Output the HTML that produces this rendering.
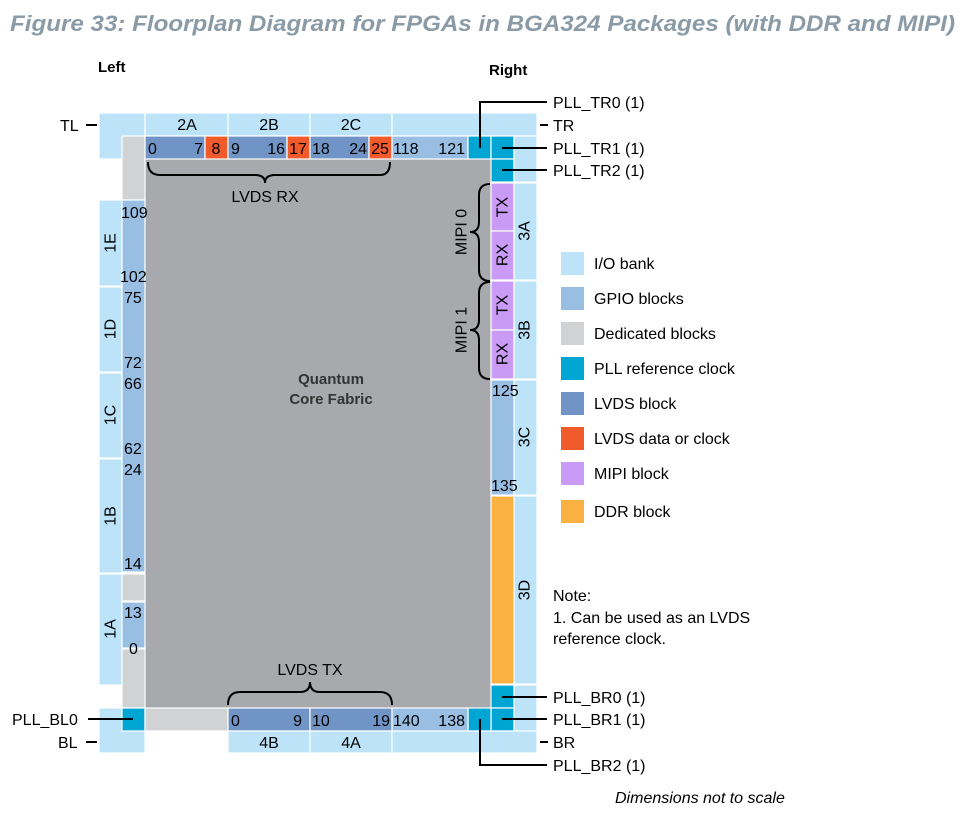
<!DOCTYPE html>
<html><head><meta charset="utf-8"><style>
html,body{margin:0;padding:0;background:#fff;}
svg{display:block;font-family:"Liberation Sans",Arial,sans-serif;}
</style></head><body>
<svg id="fp" width="968" height="817" viewBox="0 0 968 817" xmlns="http://www.w3.org/2000/svg">
<text x="10" y="31" font-size="22" font-weight="bold" font-style="italic" fill="#8a9aa6" textLength="945" lengthAdjust="spacingAndGlyphs">Figure 33: Floorplan Diagram for FPGAs in BGA324 Packages (with DDR and MIPI)</text>
<text x="98" y="72" font-size="15" font-weight="bold">Left</text>
<text x="489" y="75" font-size="15" font-weight="bold">Right</text>
<rect x="145" y="159" width="346" height="549" fill="#a7a9ac"/>
<text x="331" y="384" font-size="15" font-weight="bold" fill="#333" text-anchor="middle">Quantum</text>
<text x="331" y="404" font-size="15" font-weight="bold" fill="#333" text-anchor="middle">Core Fabric</text>
<g id="blocks"></g>
<g id="labels" font-size="16"></g>
<g id="lines" stroke="#000" stroke-width="2" fill="none"></g>
<g id="legend" font-size="16"></g>
<text x="553" y="601" font-size="16">Note:</text>
<text x="553" y="623" font-size="16">1. Can be used as an LVDS</text>
<text x="553" y="644" font-size="16">reference clock.</text>
<text x="615" y="803" font-size="16" font-style="italic">Dimensions not to scale</text>
</svg>
<script>
const C={io:"#bce3f8",gp:"#99bee3",de:"#d1d2d4",pll:"#00a6d3",lv:"#7094c6",ld:"#f15a2a",mi:"#c99bf6",dd:"#fbb042"};
// [x,y,w,h,type,name]
const blockList=[
[99,113,46,46,"io","tl-corner"],[145,113,83,23,"io","bank-2a"],[228,113,82,23,"io","bank-2b"],[310,113,82,23,"io","bank-2c"],[392,113,145,23,"io","bank-tr-top"],
[122,136,23,64,"de","dedicated-top-left"],
[145,136,60,23,"lv","lvds-0-7"],[205,136,23,23,"ld","lvds-8"],[228,136,59,23,"lv","lvds-9-16"],[287,136,23,23,"ld","lvds-17"],[310,136,59,23,"lv","lvds-18-24"],[369,136,23,23,"ld","lvds-25"],[392,136,76,23,"gp","gpio-118-121"],[468,136,23,23,"pll","pll-tr0"],[491,136,23,23,"pll","pll-tr1"],[491,159,23,23,"pll","pll-tr2"],
[514,136,23,46,"io","bank-tr-side"],
[99,200,23,86,"io","bank-1e"],[99,287,23,85,"io","bank-1d"],[99,373,23,85,"io","bank-1c"],[99,459,23,114,"io","bank-1b"],[99,574,23,111,"io","bank-1a"],
[122,200,23,372,"gp","gpio-left"],[122,574,23,27,"de","dedicated-1a-top"],[122,602,23,46,"gp","gpio-1a"],[122,649,23,59,"de","dedicated-1a-bottom"],
[491,183,23,48,"mi","mipi0-tx"],[491,231,23,49,"mi","mipi0-rx"],[491,281,23,49,"mi","mipi1-tx"],[491,330,23,49,"mi","mipi1-rx"],
[514,183,23,97,"io","bank-3a"],[514,281,23,98,"io","bank-3b"],[514,380,23,115,"io","bank-3c"],[514,496,23,188,"io","bank-3d"],[514,685,23,68,"io","bank-br-side"],
[491,380,23,115,"gp","gpio-125-135"],[491,496,23,188,"dd","ddr-block"],[491,685,23,23,"pll","pll-br0"],[491,708,23,23,"pll","pll-br1"],[468,708,23,23,"pll","pll-br2"],
[99,708,46,45,"io","bl-corner"],[122,708,23,23,"pll","pll-bl0"],[145,708,83,23,"de","dedicated-bottom"],
[228,708,82,23,"lv","lvds-tx-0-9"],[310,708,82,23,"lv","lvds-tx-10-19"],[392,708,76,23,"gp","gpio-140-138"],
[228,731,82,22,"io","bank-4b"],[310,731,82,22,"io","bank-4a"],[392,731,145,22,"io","bank-br-bottom"]
];
// [x,y,text,anchor]
const labelList=[
[187,130,"2A","middle"],[269,130,"2B","middle"],[351,130,"2C","middle"],
[148,154,"0","start"],[203,154,"7","end"],[216,154,"8","middle"],[231,154,"9","start"],[285,154,"16","end"],[298,154,"17","middle"],[312,154,"18","start"],[367,154,"24","end"],[380,154,"25","middle"],[393,154,"118","start"],[465,154,"121","end"],
[121,218,"109","start"],[120,282,"102","start"],[124,303,"75","start"],[124,368,"72","start"],[124,389,"66","start"],[124,454,"62","start"],[124,475,"24","start"],[124,569,"14","start"],[124,618,"13","start"],[129,654,"0","start"],
[231,726,"0","start"],[302,726,"9","end"],[312,726,"10","start"],[390,726,"19","end"],[393,726,"140","start"],[465,726,"138","end"],
[269,748,"4B","middle"],[351,748,"4A","middle"],
[265,202,"LVDS RX","middle"],[310,675,"LVDS TX","middle"],
[492,396,"125","start"],[491,491,"135","start"]
];
// rotated: [cx,cy,text]
const rotList=[[111,243,"1E"],[111,329,"1D"],[111,415,"1C"],[111,516,"1B"],[111,629,"1A"],
[503,207,"TX"],[503,255,"RX"],[503,305,"TX"],[503,354,"RX"],
[525,231,"3A"],[525,330,"3B"],[525,437,"3C"],[525,590,"3D"],[462,232,"MIPI 0"],[462,330,"MIPI 1"]];
const callouts=[[553,108,"PLL_TR0 (1)"],[553,131,"TR"],[553,154,"PLL_TR1 (1)"],[553,176,"PLL_TR2 (1)"],[553,703,"PLL_BR0 (1)"],[553,725,"PLL_BR1 (1)"],[553,748,"BR"],[553,771,"PLL_BR2 (1)"],[60,131,"TL"],[58,748,"BL"],[12,725,"PLL_BL0"]];
const linePaths=["M480 148 V102 H547","M540 125 H548","M502 148 H547","M502 170 H547","M502 697 H547","M502 719 H547","M540 742 H548","M480 719 V765 H547","M86 125 H97","M86 742 H97","M88 719 H133",
"M148 162 Q148 175 160 175 H255 Q265 175 265 183 Q265 175 275 175 H380 Q390 175 390 162",
"M228 705 Q228 692 240 692 H300 Q310 692 310 682 Q310 692 320 692 H380 Q392 692 392 705",
"M490 184 Q479 184 479 195 V222 Q479 232 470 232 Q479 232 479 242 V270 Q479 281 490 281",
"M490 282 Q479 282 479 293 V320 Q479 330 470 330 Q479 330 479 340 V368 Q479 379 490 379"];
const legendNames=["I/O bank","GPIO blocks","Dedicated blocks","PLL reference clock","LVDS block","LVDS data or clock","MIPI block","DDR block"];
const legendKeys=["io","gp","de","pll","lv","ld","mi","dd"];
const legendY=[252,287,322,357,392,427,462,500];
const NS="http://www.w3.org/2000/svg";
const gB=document.getElementById("blocks"),gL=document.getElementById("labels"),gN=document.getElementById("lines"),gG=document.getElementById("legend");
function mk(t,a){const e=document.createElementNS(NS,t);for(const k in a)e.setAttribute(k,a[k]);return e;}
blockList.forEach(b=>{const r=mk("rect",{x:b[0],y:b[1],width:b[2],height:b[3],fill:C[b[4]],stroke:"#fff","stroke-width":1.2});


gB.appendChild(r);});
labelList.forEach(l=>{const t=mk("text",{x:l[0],y:l[1],"text-anchor":l[3]});t.textContent=l[2];


gL.appendChild(t);});
rotList.forEach(l=>{const t=mk("text",{x:0,y:0,"text-anchor":"middle","dominant-baseline":"central",transform:`translate(${l[0]},${l[1]}) rotate(-90)`});t.textContent=l[2];


gL.appendChild(t);});
callouts.forEach(l=>{const t=mk("text",{x:l[0],y:l[1]});t.textContent=l[2];


gL.appendChild(t);});
linePaths.forEach(d=>{const p=mk("path",{d:d});


gN.appendChild(p);});
legendNames.forEach((n,i)=>{const r=mk("rect",{x:561,y:legendY[i],width:23,height:23,fill:C[legendKeys[i]]});


gG.appendChild(r);
const t=mk("text",{x:594,y:legendY[i]+17});t.textContent=n;


gG.appendChild(t);});
</script>
</body></html>
